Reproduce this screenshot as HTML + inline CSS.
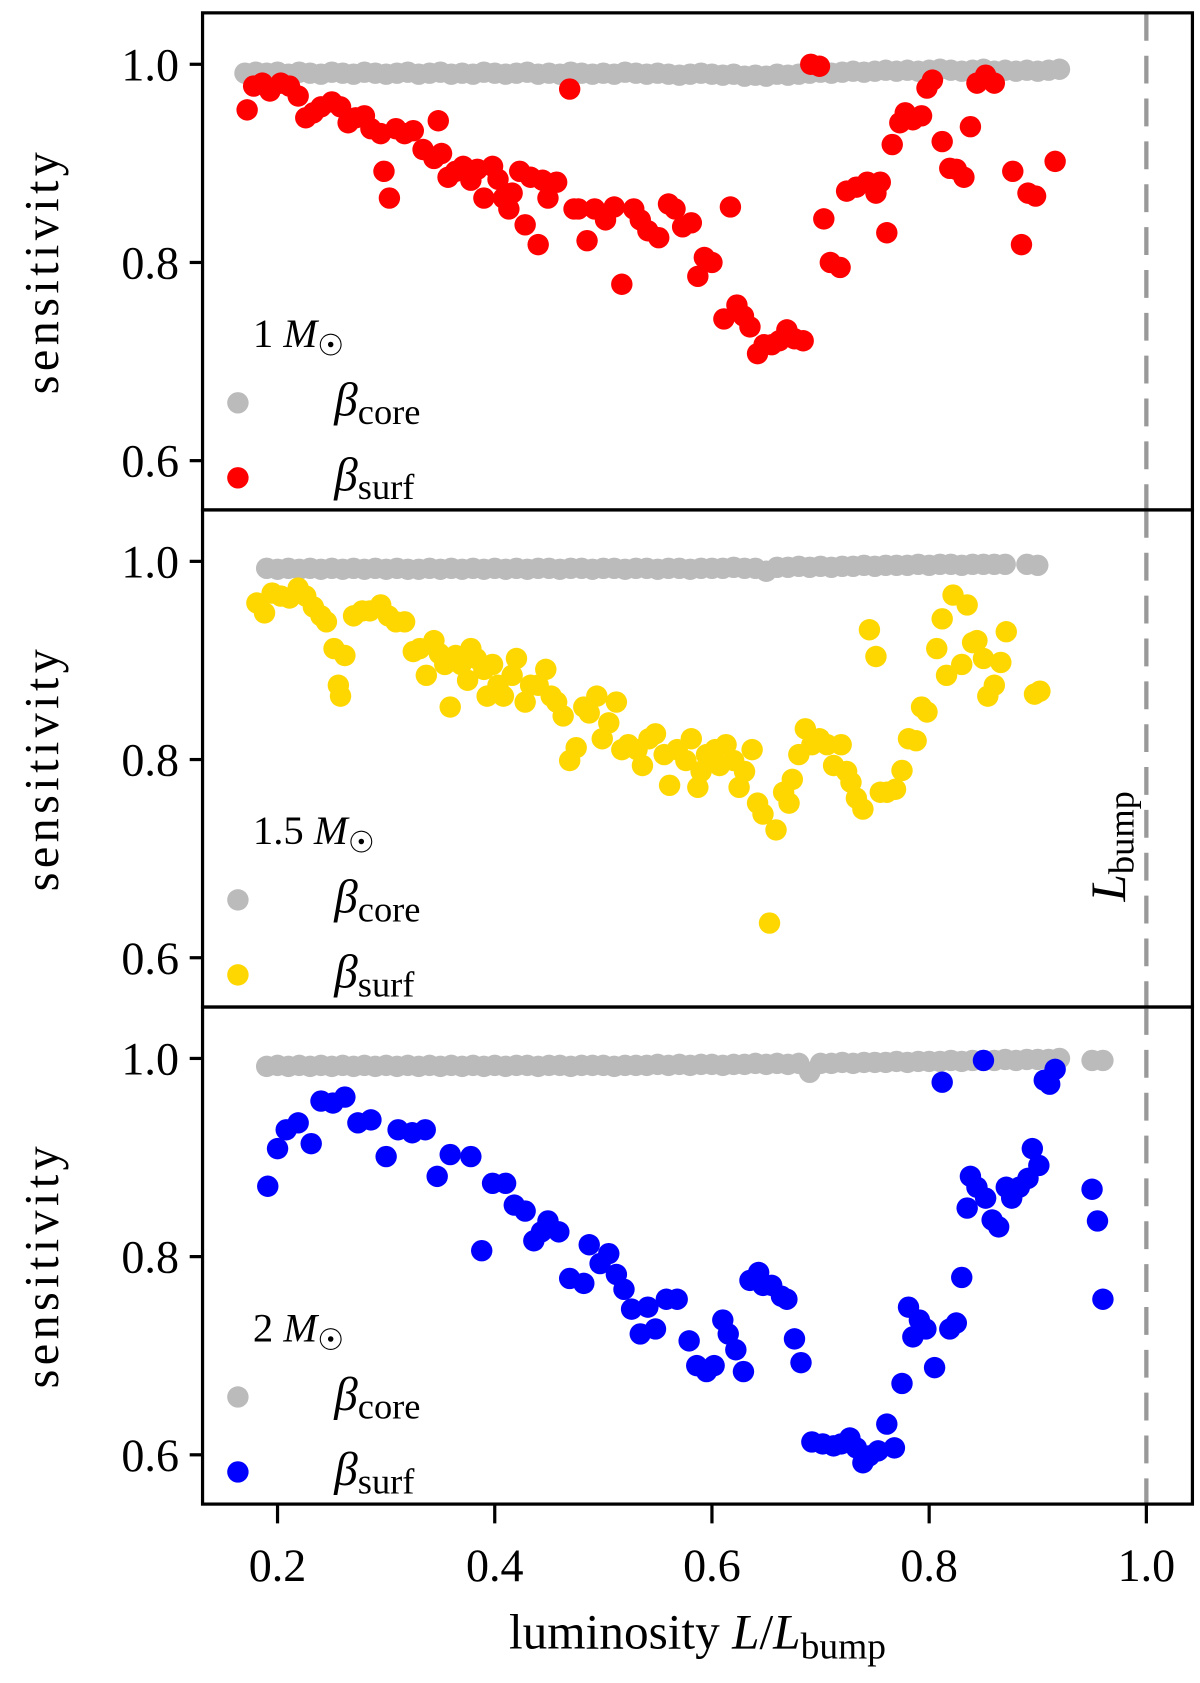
<!DOCTYPE html>
<html><head><meta charset="utf-8"><style>
html,body{margin:0;padding:0;background:#fff}
svg{display:block}
text{font-family:"Liberation Serif",serif;fill:#000}
</style></head><body>
<svg id="chart" xmlns="http://www.w3.org/2000/svg" width="1200" height="1683" viewBox="0 0 1120 1571"></svg>
<script>
// ---- data ----
const xTicks=[0.2,0.4,0.6,0.8,1.0];
const xTickLabels=["0.2","0.4","0.6","0.8","1.0"];
const yTicks=[0.6,0.8,1.0];
const yTickLabels=["0.6","0.8","1.0"];
const panelLabels=["1","1.5","2"];
const surfColors=["#ff0000","#ffd700","#0000ff"];
const coreX1=[0.17,0.18,0.19,0.20,0.21,0.22,0.23,0.24,0.25,0.26,0.27,0.28,0.29,0.30,0.31,0.32,0.33,0.34,0.35,0.36,0.37,0.38,0.39,0.40,0.41,0.42,0.43,0.44,0.45,0.46,0.47,0.48,0.49,0.50,0.51,0.52,0.53,0.54,0.55,0.56,0.57,0.58,0.59,0.60,0.61,0.62,0.63,0.64,0.65,0.66,0.67,0.68,0.69,0.70,0.71,0.72,0.73,0.74,0.75,0.76,0.77,0.78,0.79,0.80,0.81,0.82,0.83,0.84,0.85,0.86,0.87,0.88,0.89,0.90,0.91,0.92];
const coreY1=[0.991,0.992,0.991,0.992,0.990,0.992,0.991,0.990,0.992,0.991,0.990,0.992,0.991,0.990,0.991,0.992,0.990,0.991,0.992,0.990,0.991,0.990,0.992,0.991,0.990,0.991,0.992,0.990,0.991,0.990,0.992,0.991,0.990,0.991,0.990,0.992,0.991,0.990,0.991,0.990,0.989,0.990,0.991,0.990,0.989,0.990,0.988,0.989,0.988,0.990,0.989,0.990,0.991,0.992,0.991,0.992,0.993,0.992,0.993,0.994,0.993,0.994,0.993,0.994,0.995,0.994,0.993,0.994,0.995,0.993,0.994,0.993,0.994,0.993,0.994,0.995];
const coreX2=[0.19,0.20,0.21,0.22,0.23,0.24,0.25,0.26,0.27,0.28,0.29,0.30,0.31,0.32,0.33,0.34,0.35,0.36,0.37,0.38,0.39,0.40,0.41,0.42,0.43,0.44,0.45,0.46,0.47,0.48,0.49,0.50,0.51,0.52,0.53,0.54,0.55,0.56,0.57,0.58,0.59,0.60,0.61,0.62,0.63,0.64,0.65,0.66,0.67,0.68,0.69,0.70,0.71,0.72,0.73,0.74,0.75,0.76,0.77,0.78,0.79,0.80,0.81,0.82,0.83,0.84,0.85,0.86,0.87,0.89,0.90];
const coreY2=[0.993,0.992,0.993,0.992,0.993,0.992,0.993,0.992,0.993,0.992,0.993,0.992,0.993,0.992,0.992,0.993,0.992,0.993,0.992,0.993,0.992,0.993,0.992,0.993,0.992,0.993,0.993,0.992,0.993,0.993,0.992,0.993,0.993,0.992,0.993,0.993,0.992,0.993,0.993,0.992,0.993,0.993,0.993,0.994,0.993,0.993,0.990,0.994,0.994,0.995,0.994,0.995,0.994,0.995,0.995,0.996,0.995,0.996,0.996,0.996,0.997,0.996,0.997,0.997,0.996,0.997,0.997,0.997,0.997,0.997,0.996];
const coreX3=[0.19,0.20,0.21,0.22,0.23,0.24,0.25,0.26,0.27,0.28,0.29,0.30,0.31,0.32,0.33,0.34,0.35,0.36,0.37,0.38,0.39,0.40,0.41,0.42,0.43,0.44,0.45,0.46,0.47,0.48,0.49,0.50,0.51,0.52,0.53,0.54,0.55,0.56,0.57,0.58,0.59,0.60,0.61,0.62,0.63,0.64,0.65,0.66,0.67,0.68,0.69,0.70,0.71,0.72,0.73,0.74,0.75,0.76,0.77,0.78,0.79,0.80,0.81,0.82,0.83,0.84,0.85,0.86,0.87,0.88,0.89,0.90,0.91,0.92,0.95,0.96];
const coreY3=[0.992,0.993,0.992,0.993,0.992,0.993,0.992,0.993,0.992,0.993,0.992,0.993,0.992,0.993,0.992,0.993,0.992,0.993,0.992,0.993,0.992,0.993,0.992,0.993,0.993,0.992,0.993,0.993,0.992,0.993,0.993,0.993,0.992,0.993,0.993,0.993,0.994,0.993,0.994,0.993,0.994,0.994,0.993,0.994,0.994,0.995,0.994,0.995,0.994,0.995,0.986,0.995,0.995,0.996,0.995,0.996,0.996,0.996,0.997,0.996,0.997,0.997,0.997,0.998,0.997,0.998,0.998,0.998,0.999,0.998,0.999,0.999,0.999,1.000,0.998,0.998];
const surfX1=[0.172,0.178,0.186,0.193,0.203,0.211,0.219,0.226,0.233,0.240,0.250,0.258,0.265,0.272,0.280,0.286,0.295,0.298,0.303,0.309,0.317,0.325,0.334,0.344,0.348,0.351,0.357,0.364,0.371,0.378,0.384,0.390,0.398,0.403,0.408,0.413,0.416,0.423,0.428,0.433,0.440,0.444,0.449,0.457,0.469,0.473,0.477,0.485,0.492,0.502,0.510,0.517,0.528,0.534,0.541,0.551,0.560,0.566,0.573,0.581,0.587,0.593,0.600,0.611,0.617,0.623,0.629,0.635,0.642,0.648,0.655,0.662,0.669,0.676,0.684,0.691,0.699,0.703,0.709,0.718,0.724,0.733,0.743,0.751,0.755,0.761,0.766,0.773,0.778,0.785,0.793,0.798,0.803,0.812,0.819,0.825,0.832,0.838,0.844,0.852,0.860,0.877,0.885,0.891,0.898,0.916];
const surfY1=[0.954,0.978,0.981,0.973,0.981,0.978,0.968,0.946,0.951,0.957,0.962,0.957,0.941,0.946,0.948,0.935,0.930,0.892,0.865,0.935,0.930,0.933,0.914,0.905,0.943,0.910,0.886,0.892,0.897,0.883,0.894,0.865,0.897,0.884,0.865,0.854,0.870,0.892,0.838,0.886,0.818,0.883,0.865,0.881,0.975,0.854,0.854,0.822,0.854,0.843,0.856,0.778,0.854,0.843,0.832,0.825,0.859,0.854,0.836,0.840,0.786,0.805,0.800,0.743,0.856,0.757,0.746,0.735,0.708,0.717,0.717,0.721,0.732,0.723,0.721,1.000,0.998,0.844,0.800,0.795,0.872,0.876,0.881,0.870,0.881,0.830,0.919,0.941,0.951,0.944,0.948,0.976,0.984,0.922,0.895,0.894,0.886,0.937,0.981,0.989,0.981,0.892,0.818,0.870,0.867,0.902];
const surfX2=[0.181,0.188,0.195,0.203,0.211,0.219,0.226,0.233,0.240,0.245,0.252,0.256,0.258,0.262,0.270,0.278,0.285,0.295,0.302,0.309,0.317,0.325,0.331,0.337,0.344,0.349,0.354,0.359,0.364,0.369,0.375,0.378,0.383,0.390,0.393,0.398,0.403,0.408,0.416,0.420,0.428,0.433,0.440,0.447,0.452,0.457,0.463,0.469,0.475,0.482,0.487,0.494,0.499,0.505,0.512,0.517,0.523,0.531,0.536,0.542,0.548,0.556,0.561,0.568,0.576,0.581,0.587,0.590,0.595,0.603,0.607,0.613,0.620,0.625,0.630,0.637,0.642,0.647,0.653,0.659,0.666,0.671,0.674,0.680,0.686,0.692,0.699,0.706,0.712,0.719,0.724,0.728,0.733,0.739,0.745,0.751,0.755,0.761,0.769,0.775,0.781,0.788,0.793,0.798,0.807,0.812,0.816,0.822,0.830,0.835,0.840,0.844,0.850,0.854,0.860,0.866,0.871,0.897,0.902];
const surfY2=[0.958,0.948,0.968,0.965,0.963,0.973,0.965,0.954,0.945,0.939,0.912,0.875,0.864,0.905,0.945,0.950,0.950,0.956,0.945,0.939,0.939,0.909,0.912,0.885,0.920,0.907,0.896,0.853,0.905,0.896,0.880,0.912,0.902,0.891,0.864,0.896,0.875,0.864,0.885,0.902,0.858,0.875,0.875,0.891,0.864,0.858,0.844,0.799,0.812,0.853,0.847,0.864,0.821,0.837,0.858,0.810,0.815,0.810,0.794,0.821,0.826,0.805,0.774,0.810,0.799,0.821,0.772,0.788,0.805,0.810,0.794,0.815,0.799,0.772,0.788,0.810,0.756,0.745,0.635,0.729,0.767,0.756,0.780,0.805,0.831,0.815,0.821,0.815,0.794,0.815,0.788,0.777,0.761,0.750,0.931,0.904,0.767,0.767,0.770,0.789,0.821,0.819,0.853,0.848,0.912,0.942,0.885,0.966,0.896,0.956,0.918,0.920,0.902,0.864,0.875,0.898,0.929,0.866,0.869];
const surfX3=[0.191,0.200,0.208,0.219,0.231,0.240,0.251,0.262,0.274,0.286,0.300,0.311,0.324,0.336,0.347,0.359,0.378,0.388,0.398,0.410,0.418,0.428,0.436,0.443,0.449,0.459,0.469,0.482,0.487,0.497,0.505,0.512,0.519,0.526,0.534,0.541,0.548,0.558,0.568,0.579,0.586,0.595,0.602,0.610,0.615,0.622,0.629,0.635,0.643,0.647,0.655,0.664,0.669,0.676,0.682,0.692,0.702,0.712,0.719,0.727,0.733,0.739,0.745,0.753,0.761,0.768,0.775,0.781,0.785,0.791,0.797,0.805,0.812,0.819,0.825,0.830,0.835,0.838,0.844,0.852,0.858,0.864,0.871,0.876,0.883,0.850,0.891,0.895,0.901,0.906,0.911,0.916,0.950,0.955,0.960];
const surfY3=[0.871,0.909,0.928,0.935,0.914,0.957,0.955,0.961,0.935,0.938,0.901,0.928,0.925,0.928,0.881,0.903,0.901,0.806,0.874,0.874,0.852,0.846,0.816,0.825,0.836,0.825,0.778,0.773,0.812,0.793,0.803,0.782,0.767,0.747,0.722,0.749,0.727,0.757,0.757,0.715,0.690,0.684,0.690,0.736,0.722,0.706,0.684,0.776,0.784,0.771,0.771,0.760,0.757,0.717,0.693,0.613,0.611,0.609,0.611,0.617,0.607,0.592,0.599,0.604,0.631,0.607,0.672,0.749,0.719,0.736,0.727,0.688,0.976,0.727,0.733,0.779,0.849,0.881,0.870,0.859,0.837,0.830,0.870,0.859,0.870,0.998,0.879,0.909,0.892,0.978,0.974,0.989,0.868,0.836,0.757];
const coreXs=[coreX1,coreX2,coreX3], coreYs=[coreY1,coreY2,coreY3];
const surfXs=[surfX1,surfX2,surfX3], surfYs=[surfY1,surfY2,surfY3];

// ---- layout ----
const svg=document.getElementById('chart');
const NS='http://www.w3.org/2000/svg';
const L=189,R=1113,panelTop=[12,476,940],panelH=464;
const xScale=v=>259+(v-0.2)*1013.75;
const yScale=(p,v)=>panelTop[p]+48+(1-v)*925;
function mk(tag,attrs,parent){const e=document.createElementNS(NS,tag);for(const k in attrs)e.setAttribute(k,attrs[k]);(parent||svg).appendChild(e);return e;}

for(let p=0;p<3;p++){
  const g=mk('g',{});
  
  
  const T=panelTop[p];
  for(let i=0;i<coreXs[p].length;i++){
    const c=mk('circle',{cx:xScale(coreXs[p][i]),cy:yScale(p,coreYs[p][i]),r:10,fill:'#bbbbbb'},g);
    
    
  }
  for(let i=0;i<surfXs[p].length;i++){
    const c=mk('circle',{cx:xScale(surfXs[p][i]),cy:yScale(p,surfYs[p][i]),r:10,fill:surfColors[p]},g);
    
    
  }
  const d=mk('line',{x1:xScale(1.0),x2:xScale(1.0),y1:T,y2:T+panelH,stroke:'#999',"stroke-width":4,"stroke-dasharray":"26 14"},g);
  
  
  for(let i=0;i<yTicks.length;i++){
    const y=yScale(p,yTicks[i]);
    mk('line',{x1:L-12,x2:L,y1:y,y2:y,stroke:'#000','stroke-width':3},g);
    const t=mk('text',{x:L-22,y:y+15,'font-size':43,'text-anchor':'end'},g);
    t.textContent=yTickLabels[i];
    
    
  }
  const yl=mk('text',{transform:`translate(54,${T+243}) rotate(-90)`,'font-size':45,'text-anchor':'middle',textLength:226},g);
  yl.textContent='sensitivity';
  
  
  const lt=mk('text',{x:236,y:T+312,'font-size':38},g);
  lt.innerHTML=panelLabels[p]+' <tspan font-style="italic">M</tspan><tspan font-size="28" dy="8">☉</tspan>';
  
  
  mk('circle',{cx:222,cy:T+364,r:10,fill:'#bbbbbb'},g);
  const l1=mk('text',{x:312,y:T+376,'font-size':44},g);
  l1.innerHTML='<tspan font-style="italic">β</tspan><tspan font-size="34" dy="8">core</tspan>';
  
  
  mk('circle',{cx:222,cy:T+434,r:10,fill:surfColors[p]},g);
  const l2=mk('text',{x:312,y:T+446,'font-size':44},g);
  l2.innerHTML='<tspan font-style="italic">β</tspan><tspan font-size="34" dy="8">surf</tspan>';
  
  
  const fr=mk('rect',{x:L,y:T,width:R-L,height:panelH,fill:'none',stroke:'#000','stroke-width':3},g);
  
  
}
const lb=mk('text',{transform:'translate(1050,790) rotate(-90)','font-size':46,'text-anchor':'middle'});
lb.innerHTML='<tspan font-style="italic">L</tspan><tspan font-size="34" dy="8">bump</tspan>';


const B=panelTop[2]+panelH;
for(let i=0;i<xTicks.length;i++){
  const x=xScale(xTicks[i]);
  mk('line',{x1:x,x2:x,y1:B,y2:B+18,stroke:'#000','stroke-width':3});
  const t=mk('text',{x:x,y:B+72,'font-size':43,'text-anchor':'middle'});
  t.textContent=xTickLabels[i];
  
  
}
const xl=mk('text',{x:651,y:B+135,'font-size':46,'text-anchor':'middle'});
xl.innerHTML='luminosity <tspan font-style="italic">L</tspan>/<tspan font-style="italic">L</tspan><tspan font-size="35" dy="9">bump</tspan>';


</script>
</body></html>
